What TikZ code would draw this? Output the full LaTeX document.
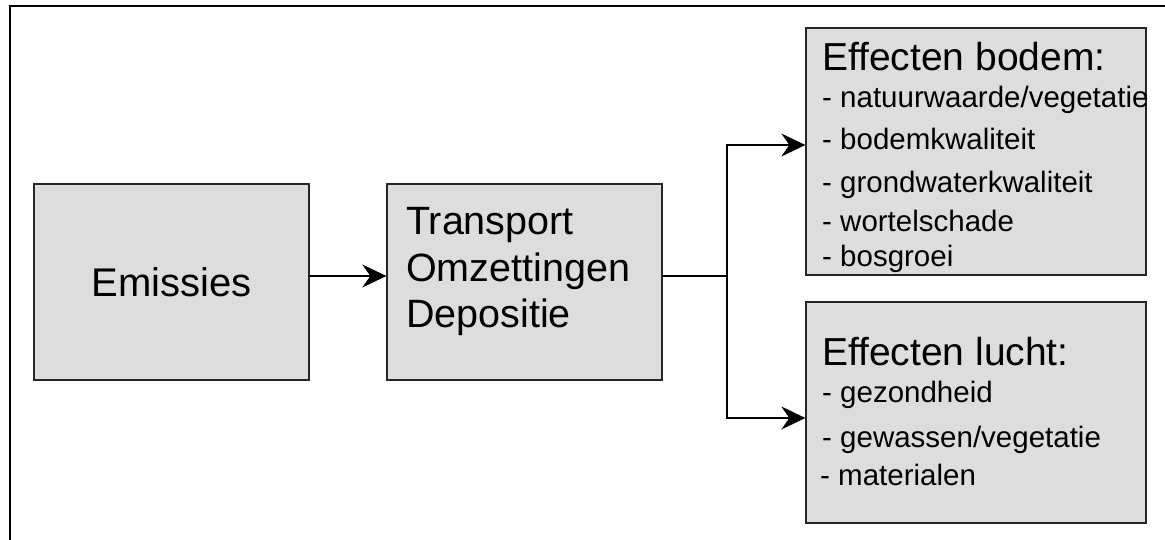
\documentclass[tikz,border=0pt]{standalone}
\usepackage{fontspec}
\setmainfont{Liberation Sans}
\usetikzlibrary{arrows.meta}
\definecolor{box area}{HTML}{DDDDDD}
\colorlet{box edge}{black!85}
\tikzset{box/.style={fill=box area, draw=box edge, line width=1.3pt},
	flow/.style={line width=1.2pt, -{Stealth[length=24pt,width=23pt,inset=8pt]}},
	heading/.style={font=\fontsize{39}{46}\selectfont, anchor=base west, inner sep=0pt},
	entry/.style={font=\fontsize{29.5}{34}\selectfont, anchor=base west, inner sep=0pt}}

\begin{document}
\begin{tikzpicture}[x=1pt,y=-1pt]
	\useasboundingbox (0,0) rectangle (1165,540);
	\draw[line width=2pt] (1165,6.5) -- (10,6.5) -- (10,540);
	% left and middle block
	\node[box, font=\fontsize{40}{46}\selectfont, minimum width=275pt, minimum height=196pt] (emis) at (171.5,282) {Emissies};
	\node[box, minimum width=275pt, minimum height=196pt] (trans) at (524.5,282) {};
	\foreach \y/\t [count=\i] in {235/Transport, 282/Omzettingen, 327/Depositie}
		\node[heading, font=\fontsize{39.5}{46}\selectfont] (trans-\i) at (406,\y) {\t};
	% effects
	\node[box, minimum width=340pt, minimum height=247pt] (bodem) at (976,151.5) {};
	\node[heading] (bodem-title) at (822,71) {Effecten bodem:};
	\foreach \y/\t [count=\i] in {108/{- natuurwaarde/vegetatie}, 150/- bodemkwaliteit, 193/- grondwaterkwaliteit, 232/- wortelschade, 267/- bosgroei}
		\node[entry] (bodem-\i) at (822,\y) {\t};
	\node[box, minimum width=340pt, minimum height=221pt] (lucht) at (976,412.5) {};
	\node[heading] (lucht-title) at (822,365) {Effecten lucht:};
	\foreach \x/\y/\t [count=\i] in {822/402/- gezondheid, 822/447/{- gewassen/vegetatie}, 820/485/- materialen}
		\node[entry] (lucht-\i) at (\x,\y) {\t};
	\coordinate (split) at (727,276);
	\draw[flow] ([yshift=6pt]emis.east) -- ([yshift=6pt]trans.west);
	\draw[line width=1.2pt] ([yshift=6pt]trans.east) -- (split);
	\draw[flow] (split) |- ([yshift=6.5pt]bodem.west);
	\draw[flow] (split) |- ([yshift=-5.5pt]lucht.west);
\end{tikzpicture}
\end{document}
